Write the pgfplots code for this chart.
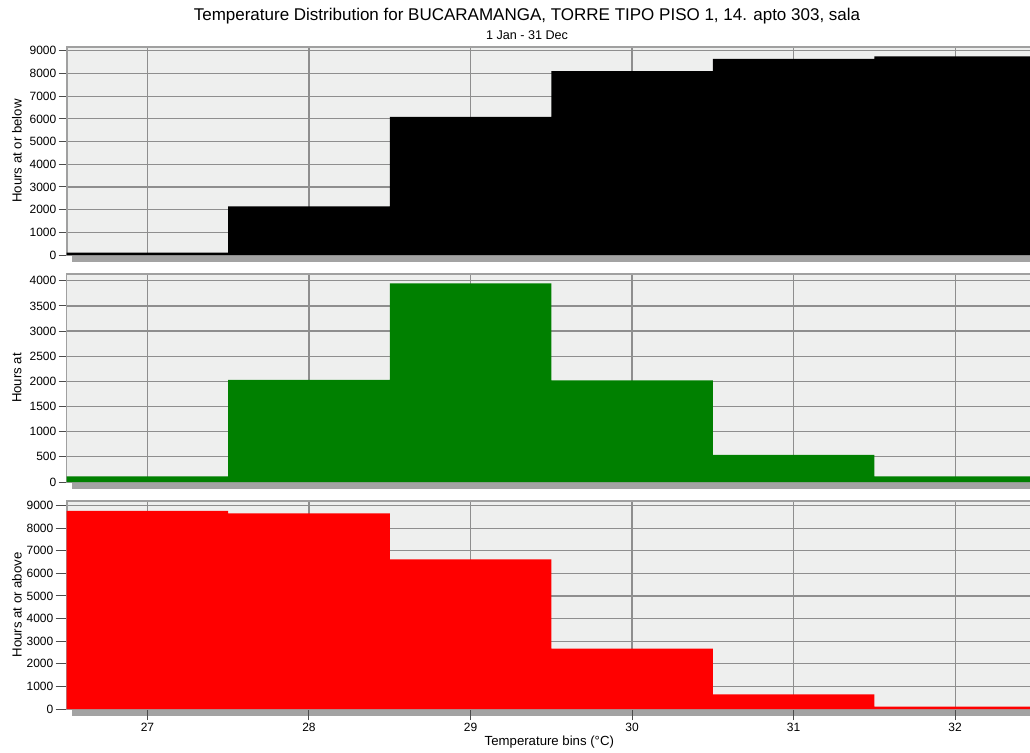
\documentclass[border=0pt]{standalone}
\usepackage{pgfplots}
\pgfplotsset{compat=1.18}
\usepackage{fontspec}
\setmainfont{Liberation Sans}
\definecolor{bg}{HTML}{EEEFEE}
\definecolor{gridc}{HTML}{8E8E8E}
\definecolor{framec}{HTML}{A0A0A0}
\definecolor{shadowc}{HTML}{A3A3A3}
\definecolor{dgreen}{HTML}{008000}
\pgfplotsset{
 panel/.style={
  scale only axis, width=482.65pt, height=104pt,
  xmin=26.5, xmax=32.476, ymin=0,
  xtick={27,28,29,30,31,32},
  grid=major,
  major grid style={gridc, line width=0.6pt},
  axis line style={framec, line width=0.8pt},
  axis background/.style={fill=bg},
  tick align=outside,
  ytick pos=left, xtick pos=bottom,
  major tick length=4pt,
  tick style={black!70, line width=0.5pt},
  tick label style={font=\fontsize{6}{7}\selectfont},
  /pgf/number format/assume math mode=true,
  /pgf/number format/1000 sep={},
  every axis y label/.style={at={(axis description cs:-0.0515,0.5)}, rotate=90, anchor=center, font=\fontsize{6.6}{8}\selectfont},
  every axis x label/.style={at={(axis description cs:0.5,0)}, anchor=center, yshift=-16.5pt, font=\fontsize{6.6}{8}\selectfont},
  yticklabel style={inner xsep=1pt},
  anchor=south west,
 }
}
\begin{document}
\begin{tikzpicture}
\useasboundingbox (0,0) rectangle (515pt,376pt);
% shadows under panels
\fill[shadowc] (36pt,245pt) rectangle (515pt,248.5pt);
\fill[shadowc] (36pt,131.5pt) rectangle (515pt,135pt);
\fill[shadowc] (36pt,18pt) rectangle (515pt,21.5pt);
\node[font=\fontsize{8.5}{10}\selectfont] at (263.5pt,368pt) {Temperature Distribution for BUCARAMANGA, TORRE TIPO PISO 1, 14. apto 303, sala};
\node[font=\fontsize{6.3}{7}\selectfont] at (263.5pt,358.5pt) {1 Jan - 31 Dec};

\begin{axis}[panel, at={(33.35pt,248.5pt)}, ymax=9170,
  ytick={0,1000,...,9000}, xticklabels={{},{},{},{},{},{}}, xtick style={draw=none},
  ylabel={Hours at or below}]
\addplot[ybar interval, fill=black, draw=none] coordinates {
(26.5,110) (27.5,2140) (28.5,6090) (29.5,8110) (30.5,8650) (31.5,8760) (32.5,8760)};
\end{axis}

\begin{axis}[panel, at={(33.35pt,135pt)}, ymax=4135,
  ytick={0,500,...,4000}, xticklabels={{},{},{},{},{},{}}, xtick style={draw=none},
  ylabel={Hours at}]
\addplot[ybar interval, fill=dgreen, draw=none] coordinates {
(26.5,110) (27.5,2030) (28.5,3950) (29.5,2020) (30.5,540) (31.5,110) (32.5,110)};
\end{axis}

\begin{axis}[panel, at={(33.35pt,21.5pt)}, ymax=9200,
  ytick={0,1000,...,9000}, major tick length=5.5pt,
  xticklabel style={yshift=2pt},
  ylabel={Hours at or above},
  xlabel={Temperature bins (°C)}]
\addplot[ybar interval, fill=red, draw=none] coordinates {
(26.5,8760) (27.5,8650) (28.5,6620) (29.5,2670) (30.5,650) (31.5,110) (32.5,110)};
\end{axis}
\end{tikzpicture}
\end{document}
